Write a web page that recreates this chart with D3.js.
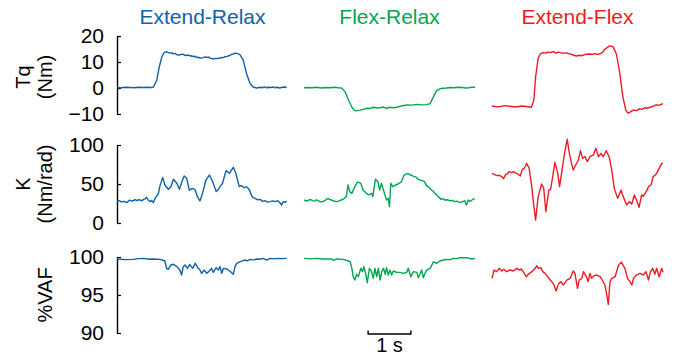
<!DOCTYPE html>
<html><head><meta charset="utf-8">
<script src="https://cdn.jsdelivr.net/npm/d3@7"></script>
<style>body{margin:0;background:#fff}svg{display:block}</style>
</head><body><svg id="c" width="694" height="356"></svg>
<script>
// ---- data ----
const conditions = ["Extend-Relax", "Flex-Relax", "Extend-Flex"];
const conditionColors = ["#0f62a6", "#00a651", "#ed1c24"];
const tqTicks = [-10, 0, 10, 20];
const kTicks = [0, 50, 100];
const vafTicks = [90, 95, 100];
const timeSpan = [0, 4];           // seconds per panel
const scaleBarSeconds = [1.5, 2.5]; // 1 s scale bar, in Flex-Relax time

// Torque (Nm) — [time s, value]
const tqExtRelax = [[0,0.2],[0.1,0.1],[0.2,0.3],[0.3,0.2],[0.4,0.1],[0.5,0.3],[0.6,0.2],[0.7,0.3],[0.8,0.2],[0.85,0.3],[0.93,3.1],[0.99,8.2],[1.05,12],[1.1,13.6],[1.16,14],[1.2,13.6],[1.24,13.4],[1.28,13.6],[1.32,13.1],[1.36,13.3],[1.4,12.8],[1.47,12.7],[1.51,13],[1.55,12.9],[1.59,12.6],[1.63,12.5],[1.67,12.7],[1.71,12.3],[1.75,12.4],[1.79,12.05],[1.83,12.2],[1.86,11.7],[1.9,11.9],[1.94,11.4],[1.98,11.6],[2.02,11.7],[2.06,12],[2.1,11.8],[2.14,11.9],[2.18,11.5],[2.22,11.3],[2.25,11.15],[2.29,11.4],[2.33,11.3],[2.37,11.5],[2.41,11.4],[2.45,11.8],[2.49,11.7],[2.53,12.1],[2.57,12.05],[2.61,12.4],[2.65,12.6],[2.69,13],[2.72,13.1],[2.76,13.4],[2.8,13.3],[2.84,13.1],[2.88,12.7],[2.95,10.8],[3.03,5.6],[3.11,1.8],[3.19,0.3],[3.27,0],[3.35,0.3],[3.4,0.1],[3.45,0.4],[3.5,0.1],[3.55,0.3],[3.6,0.2],[3.65,0.4],[3.7,0.1],[3.75,0.3],[3.8,0],[3.85,0.2],[3.9,0.4],[3.97,0.2]];
const tqFlexRelax = [[0,0.1],[0.1,0.2],[0.2,0.1],[0.3,0.3],[0.4,0],[0.5,0.2],[0.6,0.1],[0.7,0.3],[0.8,0.1],[0.88,0],[0.96,-1.4],[1.04,-4.6],[1.12,-7.4],[1.19,-8.8],[1.25,-8.6],[1.31,-8.5],[1.39,-8.2],[1.47,-7.8],[1.54,-7.9],[1.62,-7.4],[1.7,-7.7],[1.78,-7.6],[1.85,-7.3],[1.93,-7.8],[2.01,-7.4],[2.09,-7.6],[2.17,-7.4],[2.28,-6.9],[2.4,-6.5],[2.52,-6.6],[2.64,-6.3],[2.76,-6.5],[2.87,-6.4],[2.95,-6],[3.03,-3.3],[3.1,-1],[3.18,-0.3],[3.26,-0.1],[3.34,0],[3.42,0.2],[3.5,0.1],[3.6,0.3],[3.7,0.2],[3.78,0],[3.85,0.1],[3.92,0.3],[4,0.3]];
const tqExtFlex = [[0,-6.9],[0.1,-7.2],[0.2,-7.1],[0.3,-6.8],[0.4,-7],[0.5,-7.2],[0.6,-7.2],[0.7,-6.9],[0.8,-7.1],[0.92,-7.4],[0.98,-4.6],[1.02,4.3],[1.08,11.4],[1.13,13.1],[1.19,13.6],[1.25,13.4],[1.3,13.8],[1.36,13.6],[1.43,14],[1.5,13.4],[1.55,13.8],[1.6,13.6],[1.67,13.3],[1.74,13.5],[1.8,13.2],[1.85,13],[1.91,12.6],[1.97,12.3],[2.05,12.6],[2.09,12.4],[2.13,12.6],[2.2,13],[2.29,13.1],[2.35,12.9],[2.4,13.2],[2.46,13],[2.52,13.1],[2.58,13.6],[2.64,14.9],[2.7,15.6],[2.75,16.2],[2.83,15.9],[2.91,13.1],[2.99,5.6],[3.06,-3.3],[3.13,-8.5],[3.18,-9.7],[3.24,-9.2],[3.3,-8.5],[3.38,-8.7],[3.45,-8],[3.51,-8.2],[3.57,-7.6],[3.63,-7.8],[3.69,-7.4],[3.76,-7.1],[3.84,-6.5],[3.92,-6.6],[4,-6]];

// Stiffness K (Nm/rad)
const kExtRelax = [[0,27.4],[0.05,28.6],[0.1,27],[0.16,27.8],[0.23,26.1],[0.3,29.5],[0.34,28.2],[0.38,28.5],[0.42,30],[0.46,28.6],[0.5,29.8],[0.54,29.5],[0.58,28.4],[0.62,30.3],[0.66,31],[0.69,32.9],[0.73,29.6],[0.77,27.4],[0.81,28.8],[0.85,26.1],[0.89,31.6],[0.97,38],[1.0,46.6],[1.07,58.5],[1.12,48.7],[1.2,43.2],[1.26,46.6],[1.32,56],[1.4,50.9],[1.46,43.2],[1.51,51.7],[1.57,60.3],[1.63,57.3],[1.69,42.3],[1.77,44.4],[1.83,42.3],[1.88,33.8],[1.94,28.2],[2.0,38],[2.08,55.1],[2.16,61.5],[2.24,53],[2.32,40.2],[2.37,43.2],[2.47,51],[2.55,67.1],[2.63,63.7],[2.72,71.4],[2.78,63.7],[2.86,46.6],[2.9,47.8],[2.94,46.6],[2.98,45.2],[3.03,46.6],[3.1,42.3],[3.15,34.6],[3.19,32.5],[3.23,31.6],[3.29,29.6],[3.35,30.3],[3.4,27.8],[3.46,28.6],[3.52,26.8],[3.58,27.4],[3.64,28.4],[3.7,27.4],[3.76,28.6],[3.81,26.1],[3.85,23.1],[3.89,27.4],[3.93,26.4],[3.97,28.2]];
const kFlexRelax = [[0,29.5],[0.05,28.2],[0.09,28.5],[0.13,30.1],[0.17,29.5],[0.21,28.4],[0.25,28],[0.29,29.6],[0.33,28.6],[0.38,27.2],[0.44,27.4],[0.5,29.4],[0.56,31.6],[0.6,30.2],[0.64,29.5],[0.7,28.2],[0.76,27.4],[0.82,28.4],[0.87,29.5],[0.93,31],[0.99,33.8],[1.03,48.7],[1.07,40.2],[1.12,38],[1.19,46.6],[1.25,52.6],[1.33,50.9],[1.38,42.3],[1.46,38],[1.51,35.9],[1.58,38],[1.61,33.8],[1.67,56],[1.73,53],[1.77,42.3],[1.81,50.9],[1.87,40.2],[1.93,29.5],[1.97,31.6],[2.0,20.9],[2.03,50.9],[2.08,46.6],[2.14,48.7],[2.2,50],[2.28,53],[2.34,61.5],[2.43,63.7],[2.47,61.8],[2.51,61.5],[2.55,60.2],[2.59,59.4],[2.63,58.6],[2.67,56],[2.76,54.3],[2.82,53],[2.86,48.2],[2.9,46.6],[2.94,44.8],[2.98,42.3],[3.02,41.2],[3.06,38],[3.1,36.4],[3.14,33.8],[3.21,30.3],[3.25,31.2],[3.29,29.5],[3.35,29.8],[3.41,28.6],[3.47,28.9],[3.52,27.4],[3.58,28],[3.64,26.5],[3.7,27.2],[3.76,28.6],[3.8,23.1],[3.84,29.5],[3.88,27.6],[3.91,28.6],[3.95,30.4],[3.99,31.6]];
const kExtFlex = [[0,63.7],[0.05,62.2],[0.11,60.7],[0.17,61.2],[0.23,59.4],[0.27,56.8],[0.32,62.4],[0.36,63.1],[0.4,65.8],[0.45,64.6],[0.5,65.8],[0.54,64.2],[0.58,63.7],[0.66,60.3],[0.71,68.8],[0.76,70.2],[0.81,76.5],[0.87,70.1],[0.93,46.6],[0.97,25.2],[1.02,3.8],[1.08,33.8],[1.16,50],[1.21,44.4],[1.26,14.5],[1.33,42.3],[1.37,43.2],[1.42,59.4],[1.47,77.8],[1.54,63.7],[1.58,46.6],[1.65,72.2],[1.71,93.6],[1.76,107.3],[1.81,89.3],[1.86,76.5],[1.9,68],[1.96,74.4],[2.02,80.8],[2.07,92.7],[2.12,82.9],[2.18,85],[2.23,78.6],[2.29,85],[2.37,87.2],[2.43,95.7],[2.49,85],[2.55,89.3],[2.6,85],[2.67,92.7],[2.74,85],[2.8,68],[2.86,44.4],[2.94,31.6],[3.02,42.3],[3.07,33.8],[3.15,23.1],[3.21,27.4],[3.27,24.4],[3.33,35.9],[3.38,29.5],[3.44,20.1],[3.5,35.9],[3.54,34.2],[3.58,38],[3.62,41.5],[3.66,46.6],[3.72,48.7],[3.77,59.4],[3.81,61],[3.85,63.7],[3.91,70.1],[3.97,76.5],[4,76.5]];

// %VAF
const vafExtRelax = [[0,99.74],[0.2,99.65],[0.38,99.69],[0.5,99.78],[0.62,99.82],[0.75,99.7],[0.85,99.74],[1.01,99.69],[1.12,99.47],[1.16,98.51],[1.2,98.38],[1.26,98.95],[1.32,99.04],[1.4,98.73],[1.47,98.29],[1.51,97.63],[1.55,98.73],[1.59,98.95],[1.65,98.51],[1.7,99.04],[1.77,98.51],[1.83,99.17],[1.9,98.51],[1.94,98.29],[1.98,97.85],[2.04,98.29],[2.1,97.85],[2.16,98.16],[2.21,98.51],[2.25,97.98],[2.32,98.6],[2.37,98.29],[2.41,98.73],[2.45,97.85],[2.49,98.51],[2.57,98.42],[2.64,98.16],[2.72,97.72],[2.76,98.73],[2.8,99.17],[2.88,99.39],[2.99,99.6],[3.05,99.5],[3.11,99.69],[3.2,99.62],[3.27,99.74],[3.35,99.7],[3.42,99.82],[3.5,99.6],[3.58,99.82],[3.66,99.76],[3.74,99.82],[3.85,99.78],[3.97,99.82]];
const vafFlexRelax = [[0,99.82],[0.15,99.76],[0.3,99.82],[0.45,99.74],[0.65,99.74],[0.69,99.56],[0.76,99.74],[0.92,99.69],[1.04,99.47],[1.08,99.39],[1.12,98.51],[1.15,97.41],[1.19,96.97],[1.23,97.72],[1.27,97.41],[1.33,98.51],[1.37,98.07],[1.4,98.73],[1.45,97.63],[1.48,96.62],[1.53,98.51],[1.58,98.07],[1.62,97.19],[1.66,98.51],[1.7,97.41],[1.74,98.51],[1.78,96.97],[1.82,98.07],[1.86,98.51],[1.9,97.72],[1.93,98.6],[1.97,97.63],[2.01,98.29],[2.05,97.63],[2.09,98.16],[2.17,97.98],[2.25,97.98],[2.32,97.85],[2.4,97.98],[2.44,98.51],[2.5,97.41],[2.56,98.07],[2.64,97.98],[2.67,97.28],[2.71,97.72],[2.75,98.29],[2.79,97.28],[2.83,97.85],[2.87,98.29],[2.95,98.51],[3.03,99.39],[3.1,99.17],[3.18,99.47],[3.26,99.6],[3.34,99.69],[3.42,99.66],[3.49,99.82],[3.57,99.78],[3.65,99.91],[3.8,99.91],[3.93,99.74],[4,99.82]];
const vafExtFlex = [[0,97.19],[0.05,98.29],[0.11,98.07],[0.17,98.51],[0.23,98.16],[0.28,98.38],[0.34,98.07],[0.42,98.29],[0.5,98.16],[0.58,98.51],[0.64,98.29],[0.69,98.42],[0.73,98.07],[0.8,97.41],[0.85,97.72],[0.93,98.07],[1.01,98.51],[1.05,98.86],[1.08,98.51],[1.14,98.6],[1.19,98.07],[1.24,97.85],[1.3,97.41],[1.36,96.97],[1.4,96.75],[1.45,96.32],[1.5,95.53],[1.55,96.4],[1.61,96.75],[1.67,96.32],[1.75,96.97],[1.83,97.19],[1.9,98.16],[1.94,97.85],[2.0,95.88],[2.04,96.97],[2.1,97.19],[2.14,98.07],[2.18,97.63],[2.21,97.41],[2.25,96.75],[2.29,97.85],[2.33,97.19],[2.39,97.54],[2.45,97.63],[2.53,97.41],[2.59,96.84],[2.64,96.32],[2.68,95.22],[2.72,93.77],[2.76,96.75],[2.8,97.19],[2.88,97.41],[2.96,98.95],[3.03,99.3],[3.07,98.86],[3.11,98.51],[3.17,97.19],[3.23,96.75],[3.27,96.32],[3.31,97.19],[3.38,97.63],[3.46,97.85],[3.54,97.63],[3.6,98.07],[3.66,96.97],[3.7,97.98],[3.76,98.51],[3.81,97.72],[3.85,98.51],[3.91,97.41],[3.97,98.51],[4,97.98]];

// ---- drawing ----
const FONT = '"Liberation Sans", Arial, Helvetica, sans-serif';
const svg = d3.select("#c");
const panelX = [117, 304, 492];
const panelW = 171;
const x = d3.scaleLinear().domain(timeSpan).range([0, panelW]);

const rows = [
  { series: [tqExtRelax, tqFlexRelax, tqExtFlex], y: d3.scaleLinear().domain([-10, 20]).range([114, 36]), ticks: tqTicks, labels: ["Tq", "(Nm)"], labelY: 77 },
  { series: [kExtRelax, kFlexRelax, kExtFlex], y: d3.scaleLinear().domain([0, 100]).range([223, 145]), ticks: kTicks, labels: ["K", "(Nm/rad)"], labelY: 184 },
  { series: [vafExtRelax, vafFlexRelax, vafExtFlex], y: d3.scaleLinear().domain([90, 100]).range([333, 257]), ticks: vafTicks, labels: ["%VAF"], labelY: 295 }
];

// titles
svg.selectAll("text.title").data(conditions).join("text")
  .attr("class", "title")
  .attr("x", (d, i) => panelX[i] + panelW / 2)
  .attr("y", 24)
  .attr("text-anchor", "middle")
  .attr("font-family", FONT)
  .attr("font-size", 21)
  .attr("fill", (d, i) => conditionColors[i])
  .text(d => d);

rows.forEach(row => {
  // y axis
  const ax = svg.append("g").attr("transform", `translate(${panelX[0]},0)`)
    .call(d3.axisLeft(row.y).tickValues(row.ticks).tickSizeInner(-4).tickSizeOuter(0).tickPadding(13));
  ax.attr("font-family", FONT).attr("font-size", 21);
  ax.select(".domain").attr("stroke", "#000").attr("stroke-width", 1.4);
  ax.selectAll(".tick line").attr("stroke", "#000").attr("stroke-width", 1.2);
  ax.selectAll(".tick text").attr("fill", "#000");

  // axis label(s)
  const baseX = row.labels.length === 2 ? [30, 52] : [52];
  row.labels.forEach((lab, j) => {
    svg.append("text")
      .attr("transform", `translate(${baseX[j]},${row.labelY}) rotate(-90)`)
      .attr("text-anchor", "middle")
      .attr("font-family", FONT)
      .attr("font-size", 20)
      .attr("fill", "#000")
      .text(lab);
  });

  // traces
  row.series.forEach((data, i) => {
    const line = d3.line().x(d => x(d[0])).y(d => row.y(d[1]));
    svg.append("path")
      .attr("transform", `translate(${panelX[i]},0)`)
      .attr("d", line(data))
      .attr("fill", "none")
      .attr("stroke", conditionColors[i])
      .attr("stroke-width", 1.4)
      .attr("stroke-linejoin", "round");
  });
});

// scale bar (1 s)
const sb = svg.append("g").attr("transform", `translate(${panelX[1]},0)`);
const x1 = x(scaleBarSeconds[0]), x2 = x(scaleBarSeconds[1]);
sb.append("path")
  .attr("d", `M${x1},330.5V334H${x2}V330.5`)
  .attr("fill", "none").attr("stroke", "#000").attr("stroke-width", 1.4);
sb.append("text")
  .attr("x", (x1 + x2) / 2).attr("y", 352)
  .attr("text-anchor", "middle")
  .attr("font-family", FONT).attr("font-size", 20).attr("fill", "#000")
  .text((scaleBarSeconds[1] - scaleBarSeconds[0]) + " s");
</script>
</body></html>
